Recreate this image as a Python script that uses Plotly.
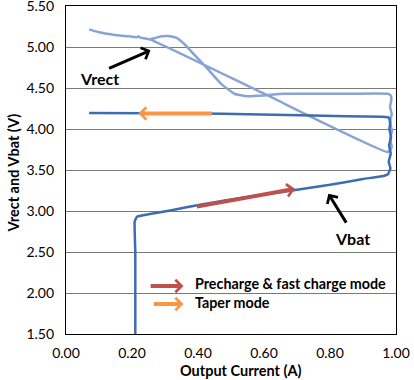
import plotly.graph_objects as go

# ---- data ----
vbat_current = [0.21, 0.21, 0.208, 0.215, 0.25, 0.32, 0.41, 0.50, 0.60, 0.70, 0.80, 0.90, 0.965, 0.976,
                0.983, 0.978, 0.984, 0.979, 0.985, 0.980, 0.983, 0.978, 0.96, 0.85, 0.71, 0.55, 0.40, 0.25, 0.07]
vbat_voltage = [1.50, 2.50, 2.87, 2.93, 2.96, 3.01, 3.08, 3.14, 3.20, 3.26, 3.32, 3.39, 3.43, 3.45,
                3.52, 3.60, 3.70, 3.80, 3.90, 4.00, 4.08, 4.14, 4.148, 4.155, 4.167, 4.18, 4.19, 4.193, 4.195]

vrect_current = [0.07, 0.10, 0.144, 0.19, 0.214, 0.219, 0.225, 0.256, 0.60, 0.976,
                 0.987, 0.982, 0.988, 0.981, 0.987, 0.982, 0.986, 0.984, 0.975, 0.85, 0.70, 0.658, 0.60, 0.55, 0.51,
                 0.47, 0.43, 0.39, 0.36, 0.335, 0.31, 0.29, 0.27, 0.255]
vrect_voltage = [5.215, 5.18, 5.15, 5.13, 5.12, 5.13, 5.115, 5.09, 4.43, 3.72,
                 3.78, 3.88, 3.98, 4.08, 4.18, 4.27, 4.36, 4.41, 4.43, 4.43, 4.43, 4.43, 4.41, 4.40, 4.43,
                 4.55, 4.73, 4.90, 5.03, 5.11, 5.135, 5.13, 5.11, 5.095]

x_ticks = [0.0, 0.2, 0.4, 0.6, 0.8, 1.0]
y_ticks = [1.5, 2.0, 2.5, 3.0, 3.5, 4.0, 4.5, 5.0, 5.5]

FONT = "Lato"

fig = go.Figure()
fig.add_trace(go.Scatter(x=vrect_current, y=vrect_voltage, mode="lines",
                         line=dict(color="#88A4D4", width=2.5, shape="spline", smoothing=0.4),
                         showlegend=False, hoverinfo="skip"))
fig.add_trace(go.Scatter(x=vbat_current, y=vbat_voltage, mode="lines",
                         line=dict(color="#3D6DB0", width=2.5, shape="spline", smoothing=0.3),
                         showlegend=False, hoverinfo="skip"))

def arrow(x, y, ax, ay, color, width, size):
    fig.add_annotation(x=x, y=y, ax=ax, ay=ay, xref="x", yref="y", axref="x", ayref="y",
                       text="", showarrow=True, arrowhead=4, arrowcolor=color,
                       arrowwidth=width, arrowsize=size)

# arrows
arrow(0.256, 4.96, 0.126, 4.73, "black", 3, 0.8)          # Vrect
arrow(0.795, 3.21, 0.852, 2.84, "black", 3, 0.8)          # Vbat
arrow(0.694, 3.27, 0.392, 3.05, "#C0504D", 4, 0.6)        # precharge on curve
arrow(0.219, 4.19, 0.447, 4.19, "#F79646", 4, 0.6)        # taper on curve
arrow(0.356, 2.085, 0.252, 2.085, "#C0504D", 4, 0.6)      # legend precharge
arrow(0.356, 1.865, 0.262, 1.865, "#F79646", 4, 0.6)      # legend taper

# labels
fig.add_annotation(x=0.101, y=4.61, text="<b>Vrect</b>", showarrow=False,
                   font=dict(family=FONT, size=16, color="black"))
fig.add_annotation(x=0.868, y=2.67, text="<b>Vbat</b>", showarrow=False,
                   font=dict(family=FONT, size=16, color="black"))
fig.add_annotation(x=0.386, y=2.12, text="<b>Precharge & fast charge mode</b>", showarrow=False,
                   xanchor="left", font=dict(family=FONT, size=14.3, color="black"))
fig.add_annotation(x=0.386, y=1.89, text="<b>Taper mode</b>", showarrow=False,
                   xanchor="left", font=dict(family=FONT, size=14.3, color="black"))

# axis titles
fig.add_annotation(x=0.53, y=-0.11, xref="paper", yref="paper", xanchor="center", yanchor="middle",
                   text="<b>Output Current (A)</b>", showarrow=False,
                   font=dict(family=FONT, size=14.5, color="black"))
fig.add_annotation(x=-0.159, y=0.491, xref="paper", yref="paper", xanchor="center", yanchor="middle",
                   textangle=-90, text="<b>Vrect and Vbat (V)</b>", showarrow=False,
                   font=dict(family=FONT, size=14.5, color="black"))

fig.update_xaxes(range=[0, 1], tickvals=x_ticks, tickformat=".2f", showgrid=False,
                 showline=True, linecolor="black", linewidth=1.3, mirror=True,
                 ticks="", ticklabelstandoff=6, zeroline=False, ticklabeloverflow="allow",
                 tickfont=dict(family=FONT, size=14, color="black"))
fig.update_yaxes(range=[1.5, 5.5], tickvals=y_ticks, tickformat=".2f", showgrid=True,
                 gridcolor="#7A7A7A", gridwidth=1.3,
                 showline=True, linecolor="black", linewidth=1.3, mirror=True,
                 ticks="", ticklabelstandoff=8, zeroline=False, ticklabeloverflow="allow",
                 tickfont=dict(family=FONT, size=14, color="black"))

fig.update_layout(width=414, height=380, margin=dict(l=65.5, r=18, t=6, b=46, autoexpand=False),
                  paper_bgcolor="white", plot_bgcolor="white", showlegend=False)

fig.write_html("out.html", config={"displayModeBar": False},
               post_script="document.body.style.margin='0';")
